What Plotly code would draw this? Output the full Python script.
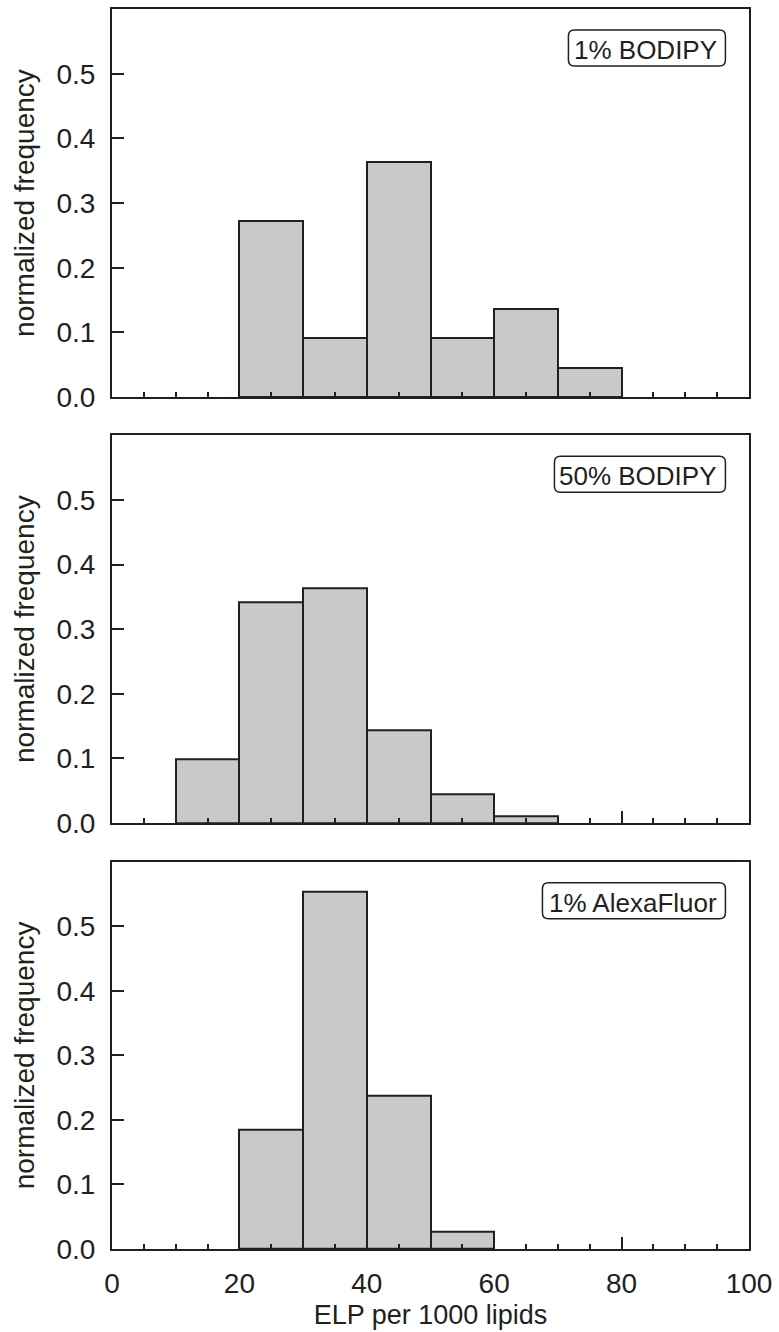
import plotly.graph_objects as go
from plotly.subplots import make_subplots

# histogram data: left bin edges and normalized frequencies
bins_1pct_bodipy = [20, 30, 40, 50, 60, 70]
freq_1pct_bodipy = [0.273, 0.091, 0.364, 0.091, 0.136, 0.045]

bins_50pct_bodipy = [10, 20, 30, 40, 50, 60]
freq_50pct_bodipy = [0.099, 0.341, 0.363, 0.143, 0.044, 0.011]

bins_1pct_alexa = [20, 30, 40, 50]
freq_1pct_alexa = [0.184, 0.553, 0.237, 0.026]

labels = ["1% BODIPY", "50% BODIPY", "1% AlexaFluor"]
bin_width = 10

INK = "#231f20"
BAR_FILL = "#c8c9cb"
FONT = "Liberation Sans, Arial, sans-serif"

# label box widths in px (rounded frame around each panel label)
BOX_W = [157, 171, 183]
BOX_H = 36
R = 6


def rounded_box(w, h, r):
    # path relative to the top-right anchor, pixel units (y up)
    return (f"M {-w + r},0 L {-r},0 Q 0,0 0,{-r} L 0,{-h + r} Q 0,{-h} {-r},{-h} "
            f"L {-w + r},{-h} Q {-w},{-h} {-w},{-h + r} L {-w},{-r} Q {-w},0 {-w + r},0 Z")


fig = make_subplots(rows=3, cols=1, shared_xaxes=False, vertical_spacing=0.03)

panels = [
    (bins_1pct_bodipy, freq_1pct_bodipy),
    (bins_50pct_bodipy, freq_50pct_bodipy),
    (bins_1pct_alexa, freq_1pct_alexa),
]

for i, (bins, freq) in enumerate(panels, start=1):
    fig.add_trace(go.Bar(
        x=bins,
        y=freq,
        width=bin_width,
        offset=0,
        marker=dict(color=BAR_FILL, line=dict(color=INK, width=2)),
        showlegend=False,
    ), row=i, col=1)

domains = [[0.687, 1.0], [0.3435, 0.6562], [0.0, 0.3122]]

for i in range(1, 4):
    xa = "xaxis" if i == 1 else f"xaxis{i}"
    ya = "yaxis" if i == 1 else f"yaxis{i}"
    xr = "x" if i == 1 else f"x{i}"
    yr = "y" if i == 1 else f"y{i}"
    fig.layout[xa].update(
        range=[0, 100],
        tickvals=[0, 20, 40, 60, 80, 100],
        ticks="inside",
        ticklen=12,
        tickwidth=1.5,
        tickcolor=INK,
        ticklabelstandoff=8,
        minor=dict(dtick=5, ticks="inside", ticklen=5, tickwidth=1.5, tickcolor=INK),
        showline=True,
        linewidth=2,
        linecolor=INK,
        mirror=True,
        showgrid=False,
        zeroline=False,
        showticklabels=(i == 3),
        tickfont=dict(size=28, color=INK, family=FONT),
    )
    fig.layout[ya].update(
        domain=domains[i - 1],
        range=[0, 0.6],
        tickvals=[0, 0.1, 0.2, 0.3, 0.4, 0.5],
        tickformat=".1f",
        ticks="inside",
        ticklen=12,
        tickwidth=1.5,
        tickcolor=INK,
        ticklabelstandoff=9,
        showline=True,
        linewidth=2,
        linecolor=INK,
        mirror=True,
        showgrid=False,
        zeroline=False,
        tickfont=dict(size=28, color=INK, family=FONT),
        title=dict(text="normalized frequency", font=dict(size=28, color=INK, family=FONT), standoff=14),
    )
    fig.add_shape(
        type="path",
        xref=f"{xr} domain", yref=f"{yr} domain",
        xsizemode="pixel", ysizemode="pixel",
        xanchor=0.963, yanchor=0.946,
        path=rounded_box(BOX_W[i - 1], BOX_H, R),
        line=dict(color=INK, width=1.5),
        fillcolor="white",
        layer="above",
    )
    fig.add_annotation(
        text=labels[i - 1],
        xref=f"{xr} domain", yref=f"{yr} domain",
        x=0.963, y=0.946,
        xanchor="right", yanchor="top",
        xshift=-6, yshift=-3,
        showarrow=False,
        font=dict(size=26, color=INK, family=FONT),
    )

fig.layout.xaxis3.title = dict(text="ELP per 1000 lipids", font=dict(size=27, color=INK, family=FONT), standoff=8)

fig.update_layout(
    width=779,
    height=1332,
    margin=dict(l=112, r=27, t=7, b=80),
    paper_bgcolor="white",
    plot_bgcolor="white",
    bargap=0,
    font=dict(family=FONT, color=INK),
)

fig.write_html(
    "out.html",
    config={"displayModeBar": False},
    post_script="document.body.style.margin='0';",
)
